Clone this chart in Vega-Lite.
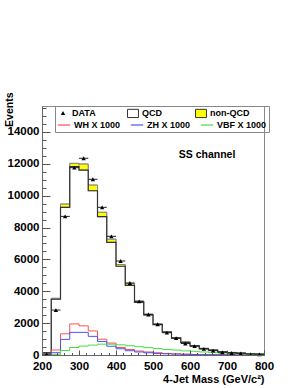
{
  "$schema": "https://vega.github.io/schema/vega-lite/v6.json",
  "width": 222,
  "height": 249,
  "autosize": "none",
  "padding": {"left": 42, "top": 106, "right": 36, "bottom": 33},
  "background": "white",
  "config": {"view": {"stroke": "#888", "strokeWidth": 1}, "font": "Liberation Sans"},
  "datasets": {
    "bins": [
      {"lo": 200, "hi": 225, "c": 212.5, "data": 60, "qcd": 140, "tot": 150, "WH X 1000": 20, "ZH X 1000": 10, "VBF X 1000": 5},
      {"lo": 225, "hi": 250, "c": 237.5, "data": 2820, "qcd": 3500, "tot": 3560, "WH X 1000": 314, "ZH X 1000": 145, "VBF X 1000": 40},
      {"lo": 250, "hi": 275, "c": 262.5, "data": 8700, "qcd": 9270, "tot": 9480, "WH X 1000": 1330, "ZH X 1000": 980, "VBF X 1000": 280},
      {"lo": 275, "hi": 300, "c": 287.5, "data": 11760, "qcd": 11820, "tot": 12030, "WH X 1000": 1950, "ZH X 1000": 1420, "VBF X 1000": 470},
      {"lo": 300, "hi": 325, "c": 312.5, "data": 12350, "qcd": 11610, "tot": 11990, "WH X 1000": 1830, "ZH X 1000": 1420, "VBF X 1000": 560},
      {"lo": 325, "hi": 350, "c": 337.5, "data": 11030, "qcd": 10310, "tot": 10670, "WH X 1000": 1510, "ZH X 1000": 1170, "VBF X 1000": 620},
      {"lo": 350, "hi": 375, "c": 362.5, "data": 9270, "qcd": 8680, "tot": 8960, "WH X 1000": 990, "ZH X 1000": 850, "VBF X 1000": 680},
      {"lo": 375, "hi": 400, "c": 387.5, "data": 7450, "qcd": 7070, "tot": 7270, "WH X 1000": 750, "ZH X 1000": 550, "VBF X 1000": 680},
      {"lo": 400, "hi": 425, "c": 412.5, "data": 5900, "qcd": 5570, "tot": 5680, "WH X 1000": 470, "ZH X 1000": 390, "VBF X 1000": 640},
      {"lo": 425, "hi": 450, "c": 437.5, "data": 4520, "qcd": 4370, "tot": 4490, "WH X 1000": 345, "ZH X 1000": 270, "VBF X 1000": 580},
      {"lo": 450, "hi": 475, "c": 462.5, "data": 3370, "qcd": 3300, "tot": 3380, "WH X 1000": 250, "ZH X 1000": 190, "VBF X 1000": 520},
      {"lo": 475, "hi": 500, "c": 487.5, "data": 2540, "qcd": 2510, "tot": 2570, "WH X 1000": 190, "ZH X 1000": 140, "VBF X 1000": 460},
      {"lo": 500, "hi": 525, "c": 512.5, "data": 1930, "qcd": 1910, "tot": 1950, "WH X 1000": 140, "ZH X 1000": 100, "VBF X 1000": 400},
      {"lo": 525, "hi": 550, "c": 537.5, "data": 1400, "qcd": 1430, "tot": 1460, "WH X 1000": 100, "ZH X 1000": 75, "VBF X 1000": 350},
      {"lo": 550, "hi": 575, "c": 562.5, "data": 1060, "qcd": 1065, "tot": 1090, "WH X 1000": 75, "ZH X 1000": 55, "VBF X 1000": 310},
      {"lo": 575, "hi": 600, "c": 587.5, "data": 720, "qcd": 795, "tot": 815, "WH X 1000": 55, "ZH X 1000": 40, "VBF X 1000": 260},
      {"lo": 600, "hi": 625, "c": 612.5, "data": 560, "qcd": 570, "tot": 585, "WH X 1000": 40, "ZH X 1000": 30, "VBF X 1000": 230},
      {"lo": 625, "hi": 650, "c": 637.5, "data": 380, "qcd": 405, "tot": 420, "WH X 1000": 30, "ZH X 1000": 20, "VBF X 1000": 190},
      {"lo": 650, "hi": 675, "c": 662.5, "data": 270, "qcd": 302, "tot": 314, "WH X 1000": 22, "ZH X 1000": 15, "VBF X 1000": 150},
      {"lo": 675, "hi": 700, "c": 687.5, "data": 170, "qcd": 200, "tot": 210, "WH X 1000": 16, "ZH X 1000": 10, "VBF X 1000": 120},
      {"lo": 700, "hi": 725, "c": 712.5, "data": 125, "qcd": 152, "tot": 160, "WH X 1000": 12, "ZH X 1000": 8, "VBF X 1000": 100},
      {"lo": 725, "hi": 750, "c": 737.5, "data": 100, "qcd": 114, "tot": 120, "WH X 1000": 9, "ZH X 1000": 6, "VBF X 1000": 80},
      {"lo": 750, "hi": 775, "c": 762.5, "data": 60, "qcd": 85, "tot": 90, "WH X 1000": 7, "ZH X 1000": 5, "VBF X 1000": 60},
      {"lo": 775, "hi": 800, "c": 787.5, "data": 40, "qcd": 56, "tot": 60, "WH X 1000": 5, "ZH X 1000": 4, "VBF X 1000": 50},
      {"lo": 800, "hi": null, "c": null, "data": null, "qcd": 56, "tot": 60, "WH X 1000": 5, "ZH X 1000": 4, "VBF X 1000": 50}
    ]
  },
  "resolve": {"axis": {"x": "independent", "y": "independent"}},
  "layer": [
    {
      "data": {"name": "bins"},
      "layer": [
        {
          "transform": [{"filter": "datum.hi != null"}],
          "mark": {"type": "bar", "stroke": "#999", "strokeWidth": 0.8},
          "encoding": {
            "x": {
              "field": "lo", "type": "quantitative",
              "scale": {"domain": [200, 800], "nice": false, "zero": false},
              "axis": {
                "orient": "bottom",
                "values": [200, 300, 400, 500, 600, 700, 800],
                "tickCount": 1000,
                "format": "d",
                "ticks": false,
                "grid": false,
                "zindex": 1,
                "domainColor": "#666",
                "labelFont": "Liberation Sans",
                "labelFontWeight": "bold",
                "labelFontSize": 11.5,
                "labelColor": "black",
                "labelPadding": 5,
                "labelFlush": false,
                "labelOverlap": false,
                "title": "4-Jet Mass (GeV/c²)",
                "titleFont": "Liberation Sans",
                "titleFontWeight": "bold",
                "titleFontSize": 11,
                "titleColor": "black",
                "titleAnchor": "end",
                "titleAlign": "right",
                "titleBaseline": "alphabetic",
                "titleY": 27
              }
            },
            "x2": {"field": "hi"},
            "y": {
              "field": "qcd", "type": "quantitative",
              "scale": {"domain": [0, 15630], "nice": false},
              "axis": {
                "orient": "left",
                "values": [0, 2000, 4000, 6000, 8000, 10000, 12000, 14000],
                "tickCount": 1000,
                "format": "d",
                "ticks": false,
                "grid": false,
                "zindex": 1,
                "domainColor": "#666",
                "labelFont": "Liberation Sans",
                "labelFontWeight": "bold",
                "labelFontSize": 11.5,
                "labelColor": "black",
                "labelPadding": 3,
                "labelFlush": false,
                "labelOverlap": false,
                "title": "Events",
                "titleFont": "Liberation Sans",
                "titleFontWeight": "bold",
                "titleFontSize": 10.5,
                "titleColor": "black",
                "titleAnchor": "end",
                "titleAlign": "right",
                "titleBaseline": "alphabetic",
                "titleX": -30,
                "titleY": -14
              }
            },
            "y2": {"field": "tot"},
            "fill": {
              "datum": "non-QCD",
              "scale": {"domain": ["QCD", "non-QCD"], "range": ["white", "#ffff00"]},
              "legend": {
                "orient": "none",
                "legendX": 85,
                "legendY": 1,
                "direction": "horizontal",
                "columns": 2,
                "title": null,
                "padding": 0,
                "symbolType": "M-1,-0.75H1V0.75H-1Z",
                "symbolSize": 120,
                "symbolStrokeColor": "#333",
                "symbolStrokeWidth": 1,
                "labelFont": "Liberation Sans",
                "labelFontWeight": "bold",
                "labelFontSize": 9,
                "labelColor": "black",
                "labelOffset": 3,
                "columnPadding": 31
              }
            }
          }
        },
        {
          "mark": {"type": "line", "interpolate": "step-after", "color": "#888", "strokeWidth": 1},
          "encoding": {
            "x": {"field": "lo", "type": "quantitative"},
            "y": {"field": "tot", "type": "quantitative"}
          }
        },
        {
          "mark": {"type": "line", "interpolate": "step-after", "color": "#333", "strokeWidth": 1.2},
          "encoding": {
            "x": {"field": "lo", "type": "quantitative"},
            "y": {"field": "qcd", "type": "quantitative"}
          }
        },
        {
          "transform": [{"fold": ["WH X 1000", "ZH X 1000", "VBF X 1000"], "as": ["series", "v"]}],
          "mark": {"type": "line", "interpolate": "step-after", "strokeWidth": 1},
          "encoding": {
            "x": {"field": "lo", "type": "quantitative"},
            "y": {"field": "v", "type": "quantitative"},
            "color": {
              "field": "series", "type": "nominal",
              "scale": {
                "domain": ["WH X 1000", "ZH X 1000", "VBF X 1000"],
                "range": ["#ff5050", "#5050ff", "#40e040"]
              },
              "legend": {
                "orient": "none",
                "legendX": 13,
                "legendY": 0,
                "direction": "horizontal",
                "columns": 3,
                "title": " ",
                "titleFontSize": 8,
                "titlePadding": 2,
                "strokeColor": "#888",
                "padding": 2,
                "cornerRadius": 0,
                "labelFont": "Liberation Sans",
                "labelFontWeight": "bold",
                "labelFontSize": 9,
                "labelColor": "black",
                "labelOffset": 3,
                "symbolSize": 150,
                "symbolStrokeWidth": 1.2,
                "columnPadding": 7
              }
            }
          }
        },
        {
          "transform": [{"filter": "datum.hi != null"}],
          "mark": {"type": "rule", "color": "#222", "strokeWidth": 1},
          "encoding": {
            "x": {"field": "lo", "type": "quantitative"},
            "x2": {"field": "hi"},
            "y": {"field": "data", "type": "quantitative"}
          }
        }
      ]
    },
    {
      "data": {"name": "bins"},
      "transform": [{"filter": "datum.hi != null"}],
      "mark": {"type": "point", "filled": true, "color": "black", "size": 120, "opacity": 1},
      "encoding": {
        "x": {
          "field": "c", "type": "quantitative",
          "axis": {"orient": "bottom", "values": [200, 300, 400, 500, 600, 700, 800], "tickCount": 1000, "labels": false, "domain": false, "grid": false, "tickSize": -5, "tickColor": "#555", "title": null, "zindex": 1}
        },
        "y": {
          "field": "data", "type": "quantitative",
          "axis": {"orient": "left", "values": [0, 2000, 4000, 6000, 8000, 10000, 12000, 14000], "tickCount": 1000, "labels": false, "domain": false, "grid": false, "tickSize": -8, "tickColor": "#555", "title": null, "zindex": 1}
        },
        "shape": {
          "datum": "DATA",
          "scale": {"domain": ["DATA"], "range": ["M-0.4,0.35L0,-0.35L0.4,0.35Z M-1,0H1 M0,-0.8V0.8"]},
          "legend": {
            "orient": "none",
            "legendX": 15,
            "legendY": 1,
            "title": null,
            "padding": 0,
            "symbolSize": 120,
            "symbolFillColor": "black",
            "symbolStrokeColor": "black",
            "symbolStrokeWidth": 1,
            "labelFont": "Liberation Sans",
            "labelFontWeight": "bold",
            "labelFontSize": 9,
            "labelColor": "black",
            "labelOffset": 3
          }
        }
      }
    },
    {
      "data": {"values": [{}]},
      "mark": {"type": "text", "text": "SS channel", "font": "Liberation Sans", "fontWeight": "bold", "fontSize": 10.5, "color": "black", "align": "center", "baseline": "middle"},
      "encoding": {
        "x": {
          "datum": 646, "type": "quantitative",
          "axis": {"orient": "bottom", "values": [220, 240, 260, 280, 320, 340, 360, 380, 420, 440, 460, 480, 520, 540, 560, 580, 620, 640, 660, 680, 720, 740, 760, 780], "tickCount": 1000, "labels": false, "domain": false, "grid": false, "tickSize": -2.5, "tickColor": "#555", "title": null, "zindex": 1}
        },
        "y": {
          "datum": 12550, "type": "quantitative",
          "axis": {"orient": "left", "values": [500, 1000, 1500, 2500, 3000, 3500, 4500, 5000, 5500, 6500, 7000, 7500, 8500, 9000, 9500, 10500, 11000, 11500, 12500, 13000, 13500, 14500, 15000, 15500], "tickCount": 1000, "labels": false, "domain": false, "grid": false, "tickSize": -4, "tickColor": "#555", "title": null, "zindex": 1}
        }
      }
    }
  ]
}
